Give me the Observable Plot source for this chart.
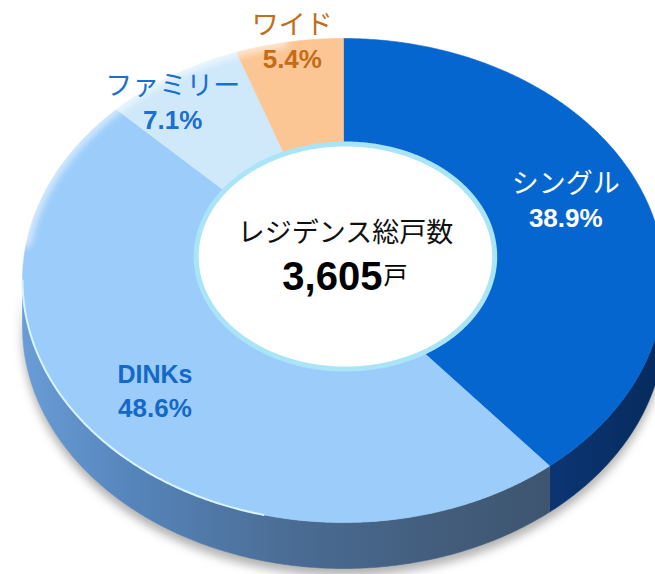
<!DOCTYPE html>
<html><head><meta charset="utf-8">
<script src="https://cdn.jsdelivr.net/npm/d3@7"></script>
<script src="https://cdn.jsdelivr.net/npm/@observablehq/plot@0.6"></script>
<style>body{margin:0;background:#fff}#chart svg{display:block}</style>
</head><body><div id="chart"></div>
<script>
// ---- data ----
const categories = ["シングル", "DINKs", "ファミリー", "ワイド"];
const shares = [38.9, 48.6, 7.1, 5.4];
const shareLabels = ["38.9%", "48.6%", "7.1%", "5.4%"];
const totalTitle = ["レジデンス総戸数"];
const totalValue = ["3,605"];
const totalUnit = ["戸"];

// ---- styles / layout ----
const topColors = ["#0666cf", "#9ccdfa", "#cfe9fb", "#fbc694"];
const sideFills = ["url(#sideSingle)", "url(#sideDinks)", "#9ab", "#c98"];
const textColors = ["#ffffff", "#1468c8", "#1a6fd0", "#c46c16"];
const nameLatin = [false, true, false, false];
const labelRadius = [0.75, 0.75, 0.875, 0.963];
const labelNudge = [[-4, -17], [-11, -11], [-21, 2], [1, -8]];
const W = 655, H = 574;
const DEPTH = 0.19;
const HOLE = {r: 0.465, lift: 0.099, dx: 0.006};
const JP = "'Noto Sans CJK JP', 'Noto Sans', sans-serif";
const LAT = "'Liberation Sans', Arial, 'Noto Sans CJK JP', sans-serif";

const pie = d3.pie().sort(null).value(d => d)(shares);
const STEP = Math.PI / 360;
function arc(a0, a1, drop = 0, r = 1, cx = 0, cy = 0) {
  const n = Math.max(2, Math.ceil(Math.abs(a1 - a0) / STEP));
  return d3.range(n + 1).map(k => {
    const a = a0 + (a1 - a0) * k / n;
    return {x: cx + r * Math.sin(a), y: cy + r * Math.cos(a) - drop};
  });
}

const marks = [];
// shadow
const halfFront = [...arc(Math.PI / 2, 3 * Math.PI / 2, 0.02), ...arc(Math.PI / 2, 3 * Math.PI / 2, DEPTH + 0.03).reverse()];
marks.push(Plot.line(halfFront, {x: "x", y: "y", fill: "#555", fillOpacity: 0.45, stroke: "none", imageFilter: "blur(5px)"}));
// side walls
pie.forEach((p, i) => {
  const a0 = Math.max(p.startAngle, Math.PI / 2), a1 = Math.min(p.endAngle, 3 * Math.PI / 2);
  if (a0 < a1) {
    const pts = [...arc(a0, a1, 0), ...arc(a0, a1, DEPTH).reverse()];
    marks.push(Plot.line(pts, {x: "x", y: "y", fill: sideFills[i], stroke: sideFills[i], strokeWidth: 0.6}));
  }
});
// top faces
pie.forEach((p, i) => {
  const pts = [{x: 0, y: 0}, ...arc(p.startAngle, p.endAngle), {x: 0, y: 0}];
  marks.push(Plot.line(pts, {x: "x", y: "y", fill: topColors[i], stroke: topColors[i], strokeWidth: 0.6}));
});
// rim highlight (lower left) and glare (upper left)
marks.push(Plot.line(arc(Math.PI * 1.08, Math.PI * 1.5), {x: "x", y: "y", stroke: "#d8f5ff", strokeWidth: 2}));
marks.push(Plot.line(arc(Math.PI * 1.55, Math.PI * 1.94), {x: "x", y: "y", stroke: "#fff", strokeWidth: 10, strokeOpacity: 0.55, imageFilter: "blur(3px)"}));
// centre disc
const hole = arc(0, 2 * Math.PI, 0, HOLE.r, HOLE.dx, HOLE.lift);
marks.push(Plot.line(hole, {x: "x", y: "y", fill: "#fff", stroke: "#a9e4f7", strokeWidth: 5}));
const hc = [{x: HOLE.dx, y: HOLE.lift}];
marks.push(Plot.text(totalTitle, {x: () => hc[0].x, y: () => hc[0].y, text: d => d, dy: -23, fontSize: 27, fontFamily: JP, fill: "#111"}));
marks.push(Plot.text(totalValue, {x: () => hc[0].x, y: () => hc[0].y, text: d => d, dx: 37, dy: 21, textAnchor: "end", fontSize: 40, fontWeight: "bold", fontFamily: LAT, fill: "#000"}));
marks.push(Plot.text(totalUnit, {x: () => hc[0].x, y: () => hc[0].y, text: d => d, dx: 38, dy: 20, textAnchor: "start", fontSize: 24, fontFamily: JP, fill: "#000"}));
// slice labels
pie.forEach((p, i) => {
  const mid = (p.startAngle + p.endAngle) / 2;
  const pos = [{x: labelRadius[i] * Math.sin(mid), y: labelRadius[i] * Math.cos(mid)}];
  const [nx, ny] = labelNudge[i];
  marks.push(Plot.text(pos, {x: "x", y: "y", text: () => categories[i], dx: nx, dy: ny - 17,
    fontSize: nameLatin[i] ? 25 : 27, fontWeight: nameLatin[i] ? "bold" : "normal",
    fontFamily: nameLatin[i] ? LAT : JP, fill: textColors[i]}));
  marks.push(Plot.text(pos, {x: "x", y: "y", text: () => shareLabels[i], dx: nx, dy: ny + 17,
    fontSize: 26, fontWeight: "bold", fontFamily: LAT, fill: textColors[i]}));
});

const svg = Plot.plot({
  width: W, height: H,
  margin: 0,
  x: {domain: [-1, 1], range: [22, 664], axis: null},
  y: {domain: [-1, 1], range: [522, 38], axis: null},
  style: {background: "#fff", overflow: "hidden"},
  marks
});
const defs = d3.select(svg).insert("defs", ":first-child");
const g1 = defs.append("linearGradient").attr("id", "sideDinks").attr("gradientUnits", "userSpaceOnUse")
  .attr("x1", 22).attr("x2", 562).attr("y1", 0).attr("y2", 0);
[[0, "#6a9cd6"], [0.2, "#5685bb"], [0.5, "#4a6c94"], [0.8, "#425c7a"], [1, "#3d546e"]]
  .forEach(([o, c]) => g1.append("stop").attr("offset", o).attr("stop-color", c));
const g2 = defs.append("linearGradient").attr("id", "sideSingle").attr("gradientUnits", "userSpaceOnUse")
  .attr("x1", 562).attr("x2", 664).attr("y1", 0).attr("y2", 0);
[[0, "#0b3470"], [1, "#062a5c"]].forEach(([o, c]) => g2.append("stop").attr("offset", o).attr("stop-color", c));
document.getElementById("chart").appendChild(svg);
</script>
</body></html>
